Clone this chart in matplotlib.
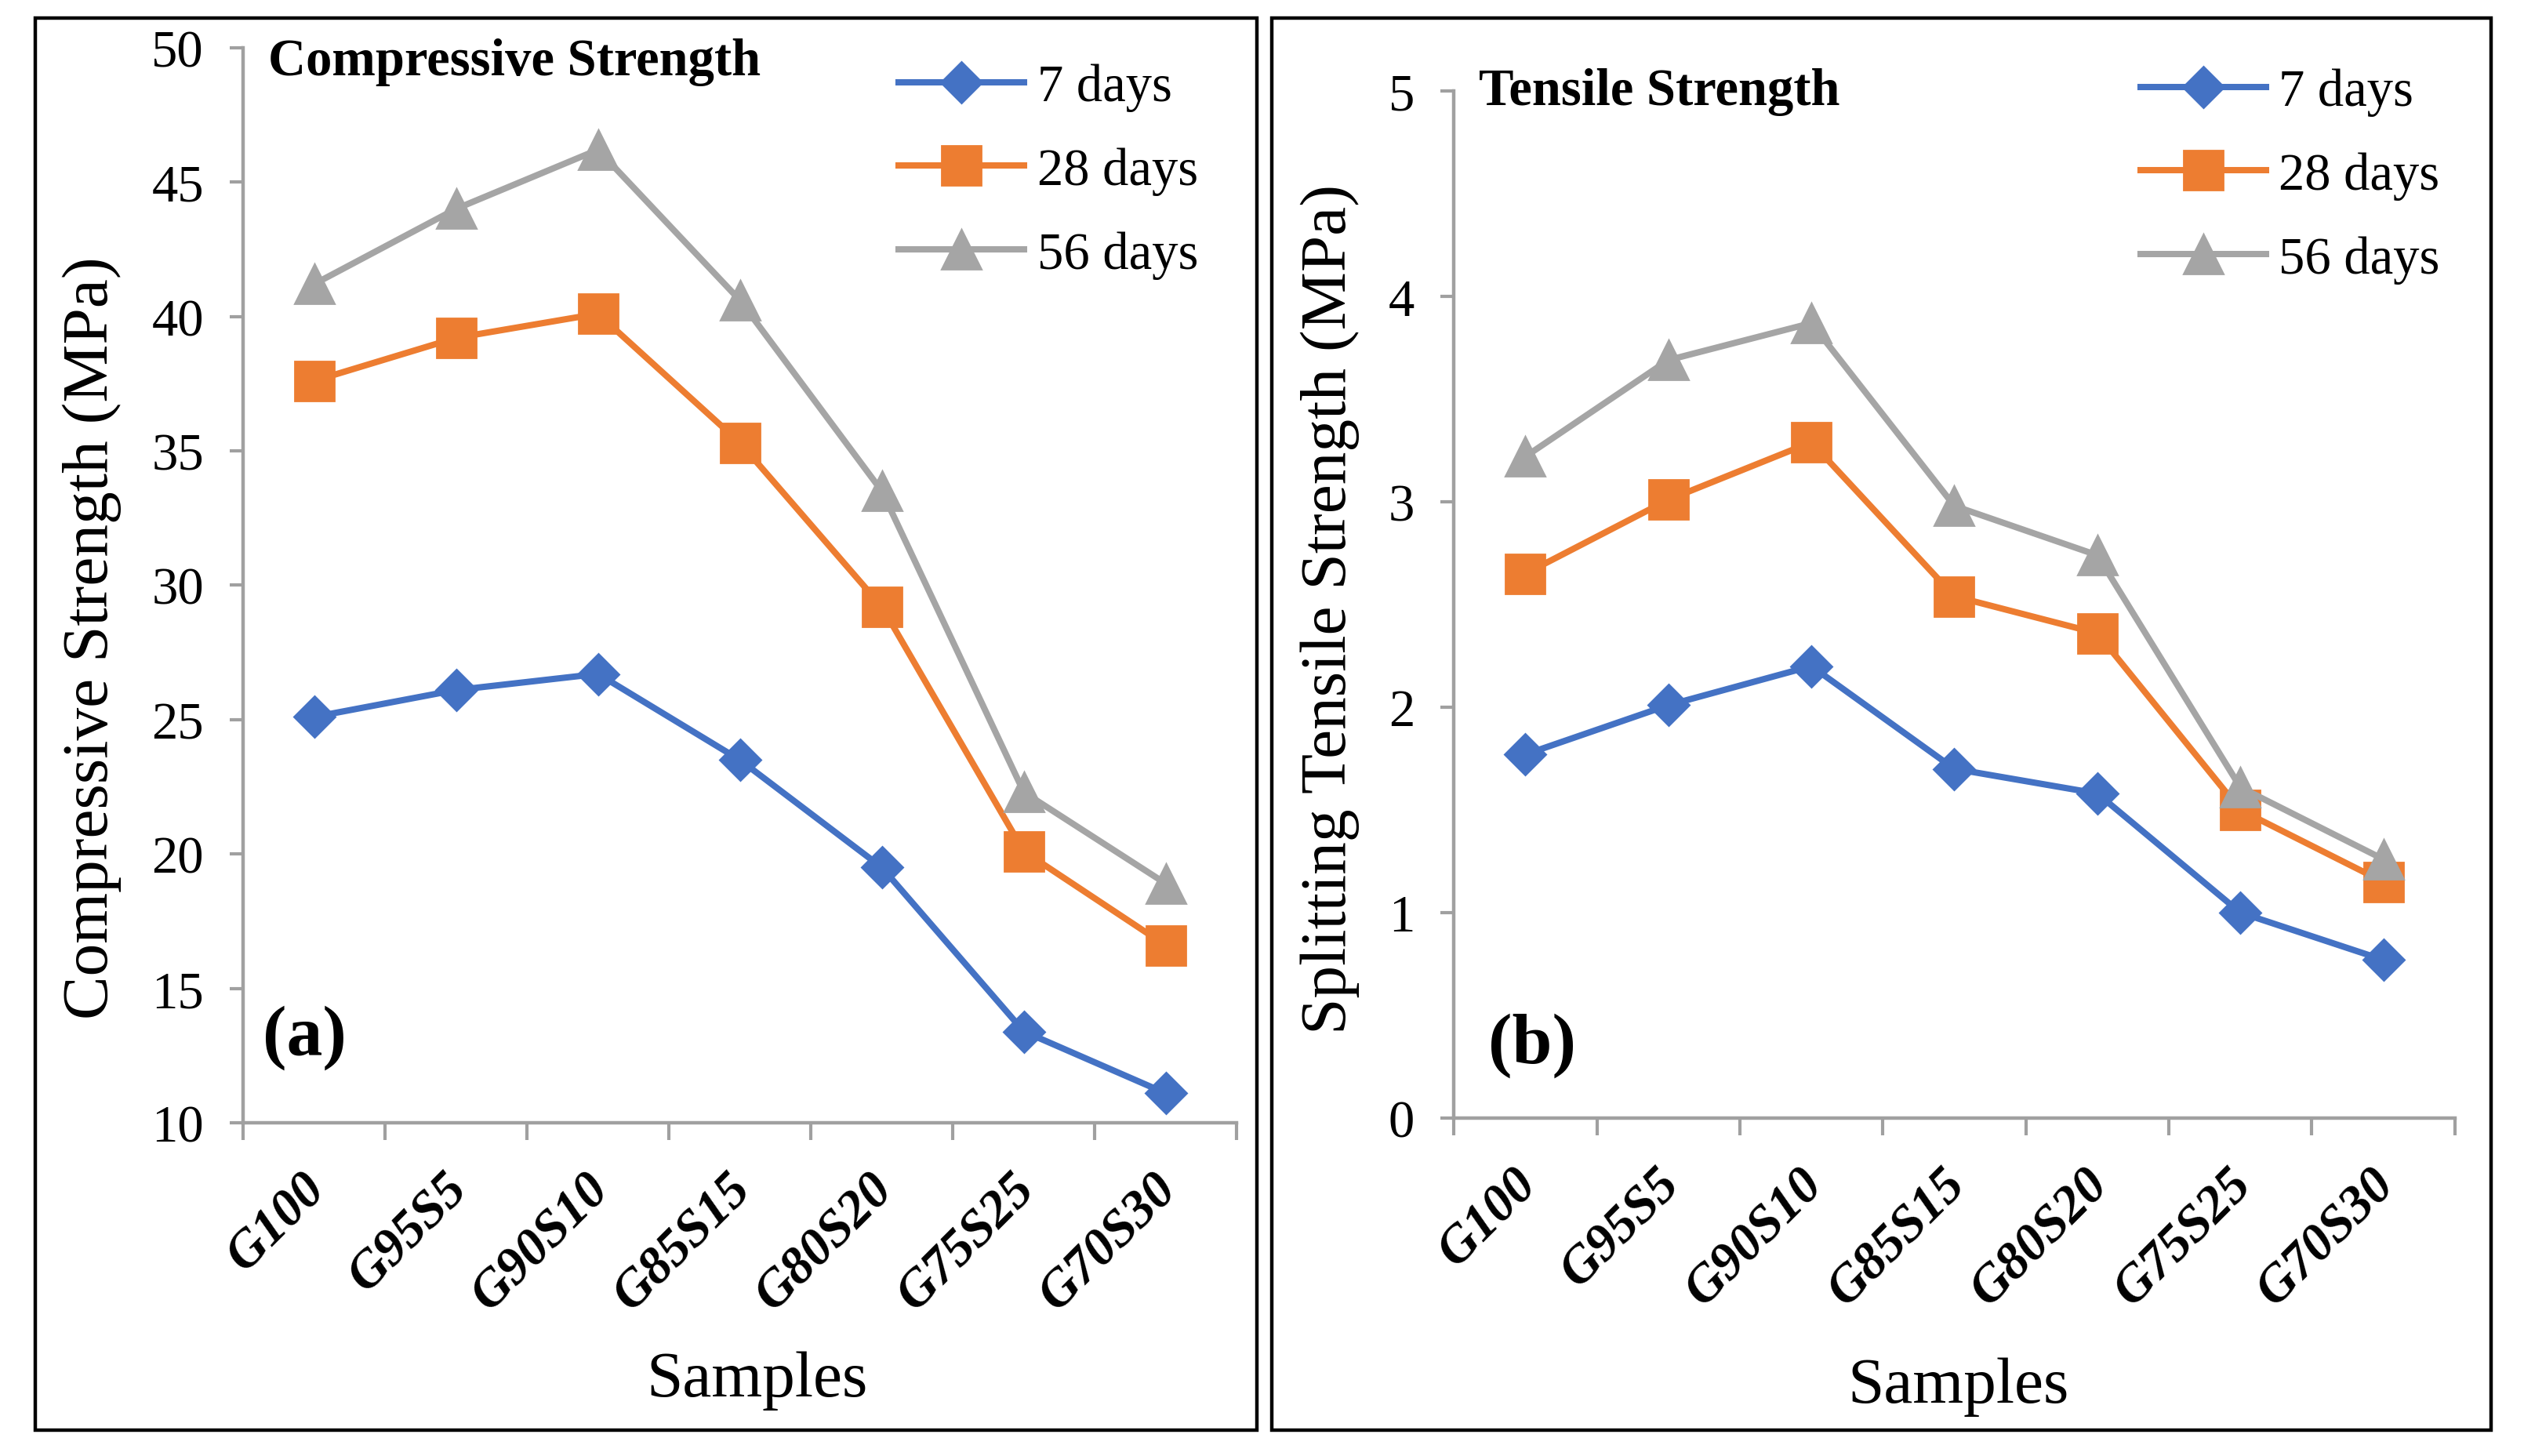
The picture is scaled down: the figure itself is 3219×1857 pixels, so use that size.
import matplotlib
matplotlib.use("Agg")
import matplotlib.pyplot as plt
import matplotlib.transforms as mtransforms
from matplotlib.patches import Rectangle

plt.rcParams['font.family'] = ['Liberation Serif', 'DejaVu Serif']

samples = ["G100", "G95S5", "G90S10", "G85S15", "G80S20", "G75S25", "G70S30"]
ages = ["7 days", "28 days", "56 days"]

comp_7 = [25.1, 26.1, 26.7, 23.5, 19.5, 13.4, 11.1]
comp_28 = [37.6, 39.2, 40.1, 35.3, 29.2, 20.1, 16.6]
comp_56 = [41.2, 44.0, 46.2, 40.6, 33.5, 22.3, 18.9]

tens_7 = [1.77, 2.01, 2.20, 1.70, 1.58, 1.00, 0.77]
tens_28 = [2.65, 3.01, 3.29, 2.54, 2.36, 1.50, 1.15]
tens_56 = [3.22, 3.69, 3.87, 2.98, 2.74, 1.61, 1.26]

colors = ["#4472C4", "#ED7D31", "#A5A5A5"]
markers = ["D", "s", "^"]
msizes = [13, 18, 18]
axis_gray = "#A0A0A0"

fig = plt.figure(figsize=(16.095, 9.29), dpi=200)

# outer frames around each panel
for x0, x1 in [(0.014, 0.498), (0.504, 0.987)]:
    fig.add_artist(Rectangle((x0, 0.018), x1 - x0, 0.969, transform=fig.transFigure,
                             fill=False, edgecolor="black", linewidth=1.6))

def panel(rect, series, ylim, yticks, title, tag, title_y, tag_xy, leg_anchor):
    ax = fig.add_axes(rect)
    x = list(range(len(samples)))
    for vals, lab, c, m, ms in zip(series, ages, colors, markers, msizes):
        ax.plot(x, vals, color=c, marker=m, markersize=ms, linewidth=2.9, label=lab,
                solid_joinstyle="round")
    ax.set_xlim(-0.5, len(samples) - 0.5)
    ax.set_ylim(*ylim)
    ax.set_yticks(yticks)
    ax.set_yticklabels([str(t) for t in yticks], fontsize=24)
    # category boundaries get the tick marks, labels sit at centres
    ax.set_xticks([i - 0.5 for i in range(len(samples) + 1)])
    ax.set_xticklabels([])
    shift = mtransforms.ScaledTranslation(-6 / 72, -19 / 72, fig.dpi_scale_trans)
    for lbl_text, t in zip(samples, x):
        ax.text(t, 0, lbl_text, transform=ax.get_xaxis_transform() + shift,
                rotation=45, rotation_mode="anchor", ha="right", va="top",
                fontsize=24, fontweight="bold", fontstyle="italic")
    ax.tick_params(axis="x", which="major", length=8, width=1.5, color=axis_gray)
    ax.tick_params(axis="y", length=6, width=1.5, color=axis_gray, pad=12)
    for s in ["top", "right"]:
        ax.spines[s].set_visible(False)
    for s in ["left", "bottom"]:
        ax.spines[s].set_color(axis_gray)
        ax.spines[s].set_linewidth(1.6)
    ax.text(0.025, title_y, title, transform=ax.transAxes, fontsize=24,
            fontweight="bold", va="center", ha="left")
    ax.text(tag_xy[0], tag_xy[1], tag, transform=ax.transAxes, fontsize=33,
            fontweight="bold", va="center", ha="left")
    ax.legend(loc="upper left", bbox_to_anchor=leg_anchor, frameon=False,
              fontsize=24, handlelength=2.4, handletextpad=0.25, labelspacing=0.68,
              borderaxespad=0)
    return ax

panel([0.0963, 0.2287, 0.3937, 0.7381], [comp_7, comp_28, comp_56],
      (10, 50), [10, 15, 20, 25, 30, 35, 40, 45, 50],
      "Compressive Strength", "(a)", 0.987, (0.02, 0.08), (0.639, 1.005))
panel([0.576, 0.232, 0.3966, 0.705], [tens_7, tens_28, tens_56],
      (0, 5), [0, 1, 2, 3, 4, 5],
      "Tensile Strength", "(b)", 1.0, (0.034, 0.071), (0.665, 1.043))

fig.text(0.0364, 0.562, "Compressive Strength (MPa)", rotation=90, fontsize=30,
         ha="center", va="center")
fig.text(0.527, 0.582, "Splitting Tensile Strength (MPa)", rotation=90, fontsize=30,
         ha="center", va="center")
fig.text(0.300, 0.052, "Samples", fontsize=30, ha="center", va="center")
fig.text(0.776, 0.048, "Samples", fontsize=30, ha="center", va="center")

fig.savefig("out.png", dpi=200)
